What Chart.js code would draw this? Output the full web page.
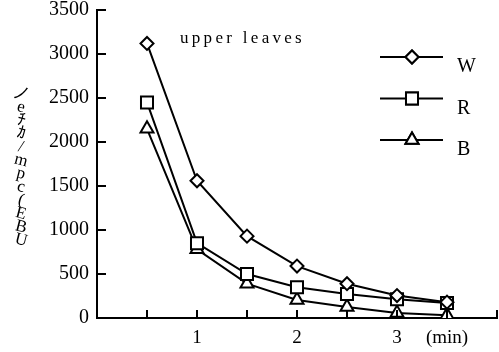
<!DOCTYPE html>
<html>
<head>
<meta charset="utf-8">
<script src="https://cdn.jsdelivr.net/npm/chart.js@4"></script>
<style>
  html, body { margin: 0; padding: 0; background: #fff; }
</style>
</head>
<body>
<canvas id="chart" width="499" height="352"></canvas>
<script>
const minutes = [0.5, 1, 1.5, 2, 2.5, 3, 3.5];
const seriesW = [3120, 1560, 930, 590, 390, 255, 180];
const seriesR = [2450, 850, 500, 350, 273, 213, 170];
const seriesB = [2150, 780, 390, 205, 125, 57, 32];
const xTickLabels = { 1: '1', 2: '2', 3: '3', 3.5: '(min)' };
const titleText = 'upper leaves';
const yLabelChars = ['ノ', 'e', 'ﾁ', 'ｶ', '/', 'm', 'p', 'c', '(', 'E', 'B', 'U'];

const serif = "'Liberation Serif', 'Times New Roman', serif";

const legendItems = [
  { label: 'W', style: 'rectRot', radius: 6.5 },
  { label: 'R', style: 'rect', radius: 8.5 },
  { label: 'B', style: 'triangle', radius: 7.5 },
];

function toPoints(values) {
  return values.map((v, i) => ({ x: minutes[i], y: v }));
}

function makeDataset(label, values, style, radius) {
  return {
    label,
    data: toPoints(values),
    borderColor: '#000',
    backgroundColor: '#fff',
    borderWidth: 2,
    pointStyle: style,
    pointRadius: radius,
    pointBorderWidth: 2,
    pointBackgroundColor: '#fff',
    pointBorderColor: '#000',
    tension: 0,
  };
}

function noPad(scale) {
  scale.paddingLeft = 0;
  scale.paddingRight = 0;
  scale.paddingTop = 0;
  scale.paddingBottom = 0;
}

// tick marks point into the plot, like the original
const inwardTicks = {
  id: 'inwardTicks',
  afterDraw(chart) {
    const { ctx, scales: { x, y } } = chart;
    ctx.save();
    ctx.strokeStyle = '#000';
    ctx.lineWidth = 2;
    for (let v = 0.5; v <= x.max; v += 0.5) {
      const px = Math.round(x.getPixelForValue(v));
      ctx.beginPath();
      ctx.moveTo(px, y.bottom);
      ctx.lineTo(px, y.bottom - 8);
      ctx.stroke();
    }
    for (let v = 500; v <= y.max; v += 500) {
      const py = Math.round(y.getPixelForValue(v));
      ctx.beginPath();
      ctx.moveTo(x.left, py);
      ctx.lineTo(x.left + 9, py);
      ctx.stroke();
    }
    ctx.restore();
  },
};

// title, legend and the y label
const decorations = {
  id: 'decorations',
  afterDraw(chart) {
    const { ctx } = chart;
    ctx.save();
    ctx.strokeStyle = '#000';
    ctx.lineWidth = 2;
    ctx.fillStyle = '#000';
    ctx.font = `17px ${serif}`;
    ctx.letterSpacing = '3.3px';
    ctx.textBaseline = 'alphabetic';
    ctx.textAlign = 'left';
    ctx.fillText(titleText, 180, 43);
    ctx.letterSpacing = '0px';

    legendItems.forEach((item, i) => {
      const ly = 57 + i * 41.5;
      ctx.beginPath();
      ctx.moveTo(380, ly);
      ctx.lineTo(443, ly);
      ctx.stroke();
      ctx.beginPath();
      Chart.helpers.drawPoint(ctx, {
        pointStyle: item.style,
        radius: item.radius,
        borderWidth: 2,
      }, 412, ly);
      ctx.fillStyle = '#fff';
      ctx.fill();
      ctx.stroke();
      ctx.fillStyle = '#000';
      ctx.font = `20px ${serif}`;
      ctx.textBaseline = 'middle';
      ctx.textAlign = 'left';
      ctx.fillText(item.label, 457, ly + 10);
    });

    ctx.font = `17px ${serif}`;
    ctx.textAlign = 'center';
    ctx.textBaseline = 'middle';
    yLabelChars.forEach((ch, i) => {
      ctx.save();
      ctx.translate(21, 94 + i * 13.3);
      ctx.rotate(0.25);
      ctx.fillText(ch, 0, 0);
      ctx.restore();
    });
    ctx.restore();
  },
};

new Chart(document.querySelector('#chart'), {
  type: 'line',
  data: {
    datasets: [
      makeDataset('W', seriesW, 'rectRot', 6.5),
      makeDataset('R', seriesR, 'rect', 8.5),
      makeDataset('B', seriesB, 'triangle', 7.5),
    ],
  },
  options: {
    responsive: false,
    animation: false,
    layout: { autoPadding: false, padding: { left: 0, right: 2, top: 10, bottom: 0 } },
    plugins: {
      legend: { display: false },
      tooltip: { enabled: false },
    },
    scales: {
      x: {
        type: 'linear',
        min: 0,
        max: 4,
        afterFit: (scale) => { scale.height = 34; noPad(scale); },
        grid: { display: false, drawTicks: false },
        border: { display: true, color: '#000', width: 2 },
        ticks: {
          stepSize: 0.5,
          autoSkip: false,
          maxRotation: 0,
          padding: 9,
          color: '#000',
          font: { family: serif, size: 19 },
          callback: (v) => xTickLabels[v] ?? '',
        },
      },
      y: {
        min: 0,
        max: 3500,
        afterFit: (scale) => { scale.width = 97; noPad(scale); },
        grid: { display: false, drawTicks: false },
        border: { display: true, color: '#000', width: 2 },
        ticks: {
          stepSize: 500,
          padding: 8,
          color: '#000',
          font: { family: serif, size: 20 },
          callback: (v) => String(v),
        },
      },
    },
  },
  plugins: [inwardTicks, decorations],
});
</script>
</body>
</html>
